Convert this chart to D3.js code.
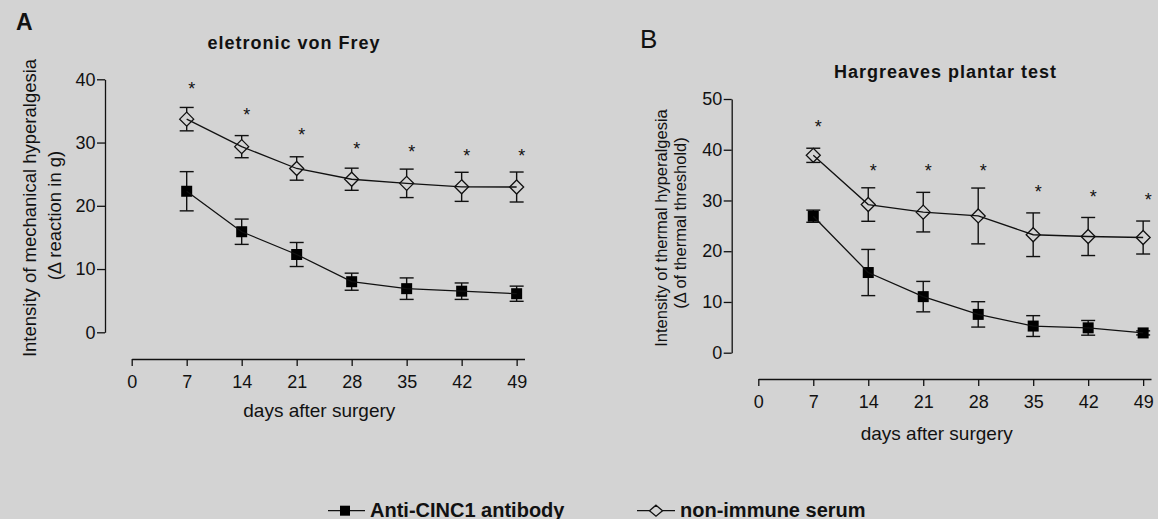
<!DOCTYPE html>
<html><head><meta charset="utf-8">
<script src="https://cdn.jsdelivr.net/npm/d3@7"></script>
<style>
html,body{margin:0;padding:0;background:#d3d3d3;}
svg{display:block;font-family:"Liberation Sans",Arial,Helvetica,sans-serif;}
</style></head><body>
<svg id="chart" width="1158" height="519"></svg>
<script>
// ---- data ----
const days = [7, 14, 21, 28, 35, 42, 49];
const xTicks = [0, 7, 14, 21, 28, 35, 42, 49];
const yTicksA = [0, 10, 20, 30, 40];
const yTicksB = [0, 10, 20, 30, 40, 50];

const antiA     = [22.3, 15.9, 12.3, 8.0, 6.9, 6.5, 6.1];
const antiA_sem = [3.1, 2.0, 1.9, 1.35, 1.7, 1.3, 1.2];
const serumA     = [33.7, 29.35, 25.9, 24.2, 23.55, 23.0, 22.97];
const serumA_sem = [1.85, 1.75, 1.85, 1.75, 2.25, 2.3, 2.37];
const starA = [39.05, 35.0, 31.9, 29.55, 29.2, 28.45, 28.45];

const antiB     = [26.9, 15.8, 11.05, 7.55, 5.25, 4.9, 3.9];
const antiB_sem = [1.2, 4.55, 3.0, 2.5, 2.05, 1.45, 0.4];
const serumB     = [38.9, 29.2, 27.7, 26.95, 23.25, 22.9, 22.7];
const serumB_sem = [1.4, 3.3, 3.9, 5.5, 4.3, 3.75, 3.25];
const starB = [45.2, 36.65, 36.65, 36.65, 32.4, 31.4, 30.95];

const seriesNames = ["Anti-CINC1 antibody", "non-immune serum"];

// ---- drawing ----
const BG = "#d3d3d3", INK = "#111";
const svg = d3.select("#chart");
svg.append("rect").attr("width", 1158).attr("height", 519).attr("fill", BG);

function diamondPath(cx, cy, hw, hh) {
  return `M${cx},${cy-hh}L${cx+hw},${cy}L${cx},${cy+hh}L${cx-hw},${cy}Z`;
}

function panel(cfg) {
  const x = d3.scaleLinear().domain([0, 50]).range(cfg.xr);
  const y = d3.scaleLinear().domain([0, cfg.ymax]).range(cfg.yr);
  const g = svg.append("g");

  // y axis
  const ya = g.append("g").attr("transform", `translate(${cfg.yAxisX},0)`)
    .call(d3.axisLeft(y).tickValues(cfg.yTicks).tickSize(8).tickPadding(1.5).tickSizeOuter(0));
  // x axis
  const xa = g.append("g").attr("transform", `translate(0,${cfg.xAxisY})`)
    .call(d3.axisBottom(x).tickValues(xTicks).tickSize(7).tickPadding(9.5).tickSizeOuter(0));
  [ya, xa].forEach(a => {
    a.selectAll("path,line").attr("stroke", INK).attr("stroke-width", 1.3);
    a.selectAll("text").attr("fill", INK).attr("font-size", 18).attr("font-family", null);
  });

  const series = [
    {v: cfg.anti, e: cfg.antiSem, type: "square"},
    {v: cfg.serum, e: cfg.serumSem, type: "diamond"}
  ];
  // error bars
  series.forEach(s => {
    const eg = g.append("g").attr("stroke", INK).attr("stroke-width", 1.4);
    days.forEach((d, i) => {
      const cx = x(d), top = y(s.v[i] + s.e[i]), bot = y(s.v[i] - s.e[i]);
      eg.append("line").attr("x1", cx).attr("x2", cx).attr("y1", top).attr("y2", bot);
      eg.append("line").attr("x1", cx - 7).attr("x2", cx + 7).attr("y1", top).attr("y2", top);
      eg.append("line").attr("x1", cx - 7).attr("x2", cx + 7).attr("y1", bot).attr("y2", bot);
    });
  });
  // markers
  series.forEach(s => {
    days.forEach((d, i) => {
      const cx = x(d), cy = y(s.v[i]);
      if (s.type === "square") {
        g.append("rect").attr("x", cx - 5.5).attr("y", cy - 5.5).attr("width", 11).attr("height", 11).attr("fill", "#000");
      } else {
        g.append("path").attr("d", diamondPath(cx, cy, 7, 7)).attr("fill", BG).attr("stroke", INK).attr("stroke-width", 1.3);
      }
    });
  });
  // connecting lines
  const line = d3.line().x((d, i) => x(days[i])).y(d => y(d));
  series.forEach(s => {
    g.append("path").attr("d", line(s.v)).attr("fill", "none").attr("stroke", INK).attr("stroke-width", 1.3);
  });
  // stars
  days.forEach((d, i) => {
    g.append("text").attr("x", x(d) + 5).attr("y", y(cfg.stars[i]) + 10)
      .attr("text-anchor", "middle").attr("font-size", 18).attr("fill", INK).text("*");
  });
  // x title
  g.append("text").attr("x", cfg.xTitle[0]).attr("y", cfg.xTitle[1]).attr("text-anchor", "middle")
    .attr("font-size", 19).attr("fill", INK).text("days after surgery");
  // y title lines
  cfg.yLabel.forEach(l => {
    g.append("text").attr("transform", `translate(${l.x},${l.y}) rotate(-90)`).attr("text-anchor", "middle")
      .attr("font-size", cfg.yLabelSize).attr("fill", INK).text(l.t);
  });
  // title
  g.append("text").attr("x", cfg.title[0]).attr("y", cfg.title[1]).attr("text-anchor", "middle")
    .attr("font-size", 18).attr("font-weight", "bold").attr("letter-spacing", "1px").attr("fill", INK).text(cfg.title[2]);
}

panel({
  xr: [131.7, 524.5], yr: [332.3, 79.3], ymax: 40, yTicks: yTicksA,
  yAxisX: 105, xAxisY: 359,
  anti: antiA, antiSem: antiA_sem, serum: serumA, serumSem: serumA_sem, stars: starA,
  xTitle: [319.3, 416.7],
  yLabelSize: 18.5,
  yLabel: [{x: 36, y: 208, t: "Intensity of mechanical hyperalgesia"}, {x: 61, y: 215.5, t: "(\u0394 reaction in g)"}],
  title: [294, 49.3, "eletronic von Frey"]
});
panel({
  xr: [758.3, 1151], yr: [352.7, 99], ymax: 50, yTicks: yTicksB,
  yAxisX: 731.7, xAxisY: 379,
  anti: antiB, antiSem: antiB_sem, serum: serumB, serumSem: serumB_sem, stars: starB,
  xTitle: [936.7, 440],
  yLabelSize: 16.5,
  yLabel: [{x: 667.3, y: 228, t: "Intensity of thermal hyperalgesia"}, {x: 686, y: 223, t: "(\u0394 of thermal threshold)"}],
  title: [945.5, 78, "Hargreaves plantar test"]
});

// panel letters
svg.append("text").attr("x", 16).attr("y", 29.5).attr("font-size", 23).attr("font-weight", "bold").attr("fill", INK).text("A");
svg.append("text").attr("x", 640).attr("y", 48.3).attr("font-size", 26).attr("fill", INK).text("B");

// legend
const lg = svg.append("g");
const legY = 510.7;
lg.append("line").attr("x1", 328).attr("x2", 365).attr("y1", legY).attr("y2", legY).attr("stroke", INK).attr("stroke-width", 1.3);
lg.append("rect").attr("x", 345 - 5).attr("y", legY - 5).attr("width", 10).attr("height", 10).attr("fill", "#000");
lg.append("text").attr("x", 370).attr("y", 516.5).attr("font-size", 20).attr("font-weight", "bold").attr("fill", INK).text(seriesNames[0]);
lg.append("line").attr("x1", 637).attr("x2", 675).attr("y1", legY).attr("y2", legY).attr("stroke", INK).attr("stroke-width", 1.3);
lg.append("path").attr("d", diamondPath(656, legY, 6.5, 5.5)).attr("fill", BG).attr("stroke", INK).attr("stroke-width", 1.3);
lg.append("text").attr("x", 680).attr("y", 516.5).attr("font-size", 20).attr("font-weight", "bold").attr("fill", INK).text(seriesNames[1]);
</script>
</body></html>
